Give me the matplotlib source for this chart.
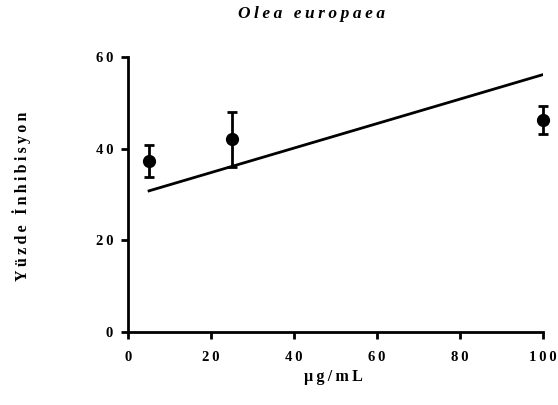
import numpy as np
import matplotlib.pyplot as plt

# concentration (ug/mL), mean inhibition (%) and error
conc = [5, 25, 100]
inhibition = [37.3, 42.1, 46.3]
err = [3.5, 6.0, 3.1]

# fitted line end points
fit_x = [5, 100]
fit_y = [30.8, 56.2]

x_ticks = [0, 20, 40, 60, 80, 100]
y_ticks = [0, 20, 40, 60]

SP = '\u2009'  # thin space between letters, Prism-style spacing


def spaced(s):
    return SP.join(s)


plt.rcParams['font.family'] = ['Liberation Serif', 'DejaVu Serif']
plt.rcParams['font.weight'] = 'bold'

fig = plt.figure(figsize=(5.58, 4.05), dpi=100)
ax = fig.add_axes([0.23, 0.181, 0.7426, 0.6775])

ax.plot(fit_x, fit_y, color='black', lw=2)
ax.errorbar(conc, inhibition, yerr=err, fmt='o', color='black', ms=8.5,
            elinewidth=2, capsize=3.6, capthick=2, clip_on=False, zorder=3)

ax.set_xlim(0, 100)
ax.set_ylim(0, 60)
ax.set_xticks(x_ticks)
ax.set_yticks(y_ticks)
ax.set_xticklabels([spaced(str(v)) for v in x_ticks])
ax.set_yticklabels([spaced(str(v)) for v in y_ticks])

for s in ['top', 'right']:
    ax.spines[s].set_visible(False)
for s in ['left', 'bottom']:
    ax.spines[s].set_linewidth(2)
ax.tick_params(width=2, length=5, labelsize=10.5)
ax.tick_params(axis='x', pad=9)
ax.tick_params(axis='y', pad=6)

fig.text(312 / 558, 0.966, spaced('Olea europaea'), fontsize=12.5,
         fontstyle='italic', fontweight='bold', ha='center', va='center')
fig.text(333 / 558, 0.069, spaced('µg/mL'), fontsize=11.5,
         ha='center', va='center')
fig.text(22 / 558, 0.516, spaced('Yüzde İnhibisyon'), fontsize=11.5,
         rotation=90, ha='center', va='center')

fig.savefig('out.png', dpi=100)
